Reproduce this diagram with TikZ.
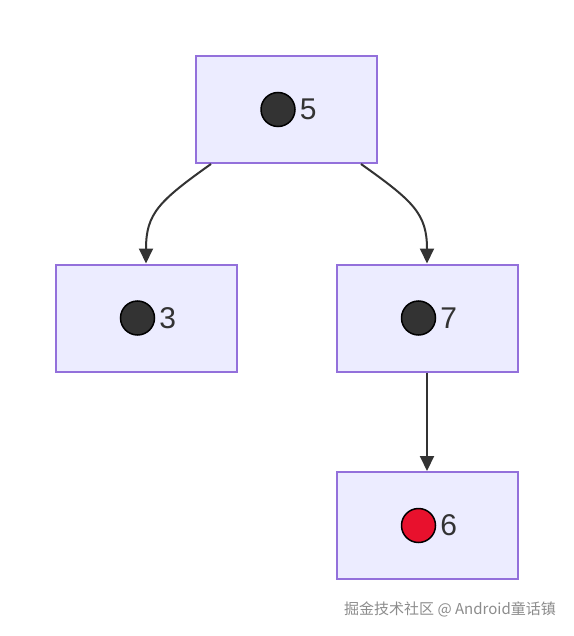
\documentclass[tikz,border=0pt]{standalone}
\usepackage{fontspec}
\setmainfont{Liberation Sans}
\newfontfamily\cjk{Noto Sans CJK SC}
\usetikzlibrary{arrows.meta, positioning}
\definecolor{boxfill}{HTML}{ECECFF}
\definecolor{boxline}{HTML}{9370DB}
\definecolor{edgegray}{HTML}{333333}
\definecolor{hotred}{HTML}{E8112D}

\begin{document}
\begin{tikzpicture}[x=1pt, y=-1pt, every node/.style={inner sep=0pt},
  treebox/.style={draw=boxline, fill=boxfill, line width=2pt, minimum width=181pt, minimum height=107pt},
  dot/.style={circle, draw=black, line width=1.5pt, minimum size=34pt},
  num/.style={font=\fontsize{30}{30}\selectfont, text=edgegray},
  arr/.style={-{Triangle[length=15pt, width=14pt]}, line width=2pt, draw=edgegray, color=edgegray}]
  \useasboundingbox (0,0) rectangle (573,636);

  \node[treebox] (b5) at (286.5,109.5) {};
  \node[treebox] (b3) at (146,318) {};
  \node[treebox] (b7) at (427,318) {};
  \node[treebox] (b6) at (427,525.5) {};

  % dot and key in each box
  \node[dot, fill=edgegray] (d5) at ([xshift=-8.5pt]b5.center) {};
  \node[num, right=4pt of d5] (n5) {5};
  \node[dot, fill=edgegray] (d3) at ([xshift=-8.5pt]b3.center) {};
  \node[num, right=4pt of d3] (n3) {3};
  \node[dot, fill=edgegray] (d7) at ([xshift=-8.5pt]b7.center) {};
  \node[num, right=4pt of d7] (n7) {7};
  \node[dot, fill=hotred] (d6) at ([xshift=-8.5pt]b6.center) {};
  \node[num, right=4pt of d6] (n6) {6};

  \draw[arr] ([xshift=16pt]b5.south west) .. controls +(-52,37) and +(0,-50) .. (b3.north);
  \draw[arr] ([xshift=-17pt]b5.south east) .. controls +(52,37) and +(0,-50) .. (b7.north);
  \draw[arr] (b7) -- (b6);

  \node[font=\cjk\fontsize{15}{15}\selectfont, text=black!45, anchor=east] (mark) at (556,609) {掘金技术社区 @ Android童话镇};
\end{tikzpicture}
\end{document}
